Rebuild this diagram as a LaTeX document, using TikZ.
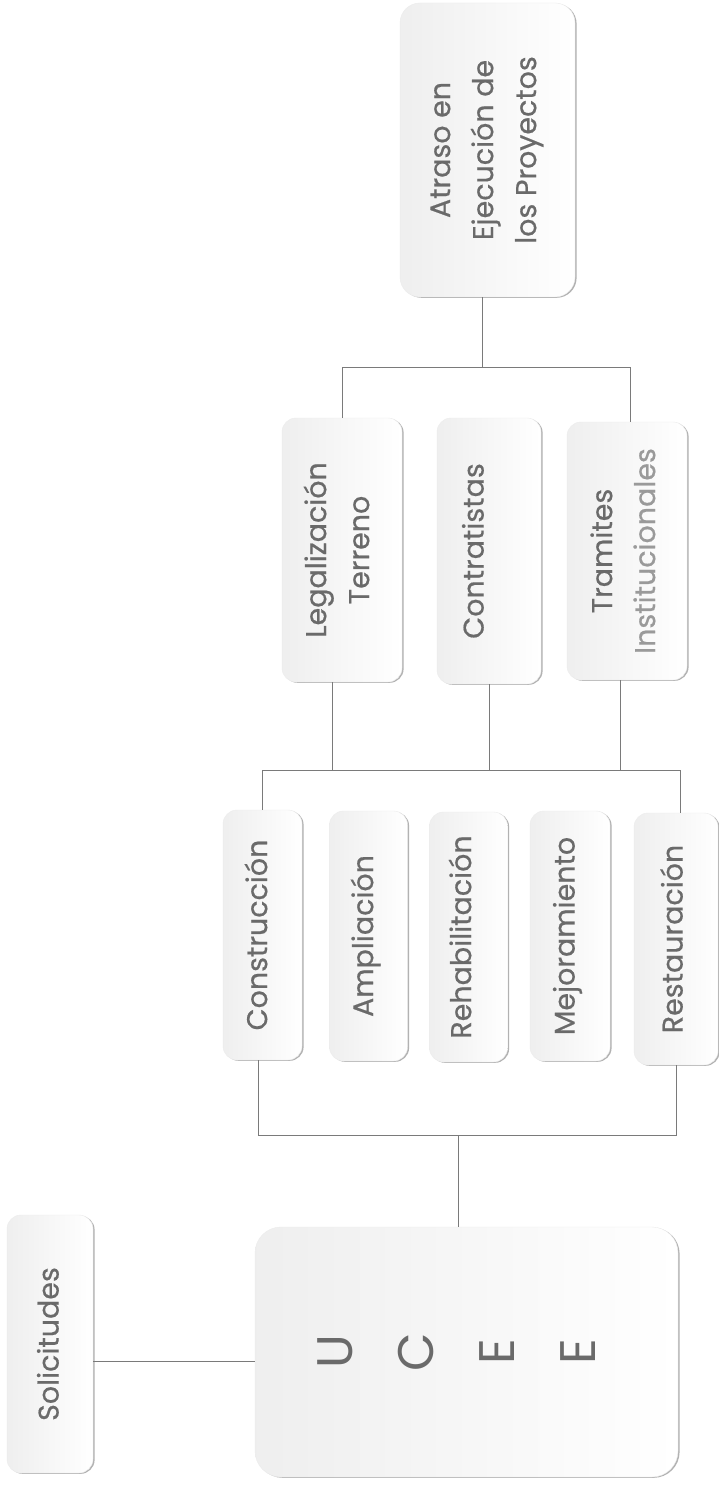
\documentclass[tikz,border=0pt]{standalone}
\usepackage{fontspec}
\setmainfont{Poppins}[FakeBold=0.5]
\newfontfamily\thinpop{Poppins}
\usepackage{graphicx}
\usetikzlibrary{shadows}
\definecolor{txt}{HTML}{6A6A6A}
\definecolor{txtlight}{HTML}{9A9A9A}
\definecolor{ln}{HTML}{7A7A7A}
\tikzset{
  box/.style={rounded corners=14pt, inner sep=0pt, left color=gray!13, right color=white,
    draw=gray!15, line width=0.4pt,
    general shadow={shadow xshift=1.6pt, shadow yshift=-0.8pt, fill=gray!60},
    text=txt, font=\fontsize{28.5}{43}\selectfont},
  conn/.style={draw=ln, line width=0.9pt},
}
% #1: horizontal offset of the text (negative = to the left), #2: lines
\newcommand{\rt}[2][0pt]{\hspace*{#1}\hspace*{#1}\rotatebox{90}{\begin{tabular}{@{}c@{}}#2\end{tabular}}}
\begin{document}
\begin{tikzpicture}[x=1pt,y=-1pt]
\useasboundingbox (0,0) rectangle (718,1495);
\fill[white] (0,0) rectangle (718,1495);

% level 1
\node[box, rounded corners=20pt, minimum width=175pt, minimum height=294pt] (atraso) at (487.5,150)
  {\rt[-3pt]{Atraso en\\Ejecución de\\los Proyectos}};

% level 2
\node[box, minimum width=120pt, minimum height=264pt] (legal) at (342,550)
  {\rt[-3pt]{Legalización\\Terreno}};
\node[box, minimum width=104pt, minimum height=266pt] (contrat) at (489,551)
  {\rt[-14pt]{Contratistas}};
\node[box, minimum width=120pt, minimum height=258pt] (tram) at (627,551)
  {\rt[-2pt]{Tramites\\\textcolor{txtlight}{Institucionales}}};

% level 3
\node[box, minimum width=79pt, minimum height=250pt] (cons) at (262.5,935) {\rt[-4pt]{Construcción}};
\node[box, minimum width=78pt, minimum height=250pt] (ampl) at (368.5,936) {\rt[-4pt]{Ampliación}};
\node[box, minimum width=78pt, minimum height=250pt] (rehab) at (468.5,937) {\rt[-6pt]{Rehabilitación}};
\node[box, minimum width=80pt, minimum height=250pt] (mejor) at (570,936) {\rt[-4pt]{Mejoramiento}};
\node[box, minimum width=84pt, minimum height=252pt] (rest) at (676,939) {\rt[-2pt]{Restauración}};

% bottom
\node[box, rounded corners=26pt, minimum width=423pt, minimum height=250pt,
  font=\thinpop\fontsize{50}{81}\selectfont] (ucee) at (466.5,1352) {\rt[-9pt]{U\\C\\E\\E}};
\node[box, minimum width=86pt, minimum height=258pt] (sol) at (50,1344) {\rt{Solicitudes}};

% bars
\coordinate (b1) at (0,367);
\coordinate (b2) at (0,770);
\coordinate (b3) at (0,1135);
\coordinate (s) at (0,1361);

\draw[conn] ([xshift=-5pt]atraso.south) -- ([xshift=-5pt]atraso.south |- b1);
\draw[conn] (legal.north) -- (legal.north |- b1) -- ([xshift=3pt]tram.north |- b1) -- ([xshift=3pt]tram.north);

\draw[conn] ([xshift=-10pt]legal.south) -- ([xshift=-10pt]legal.south |- b2);
\draw[conn] (contrat.south) -- (contrat.south |- b2);
\draw[conn] ([xshift=-7pt]tram.south) -- ([xshift=-7pt]tram.south |- b2);
\draw[conn] (cons.north) -- (cons.north |- b2) -- ([xshift=4pt]rest.north |- b2) -- ([xshift=4pt]rest.north);

\draw[conn] ([xshift=-4pt]cons.south) -- ([xshift=-4pt]cons.south |- b3) -- (rest.south |- b3) -- (rest.south);
\draw[conn] ([xshift=-8pt]ucee.north) -- ([xshift=-8pt]ucee.north |- b3);

\draw[conn] (sol.east |- s) -- (ucee.west |- s);
\end{tikzpicture}
\end{document}
